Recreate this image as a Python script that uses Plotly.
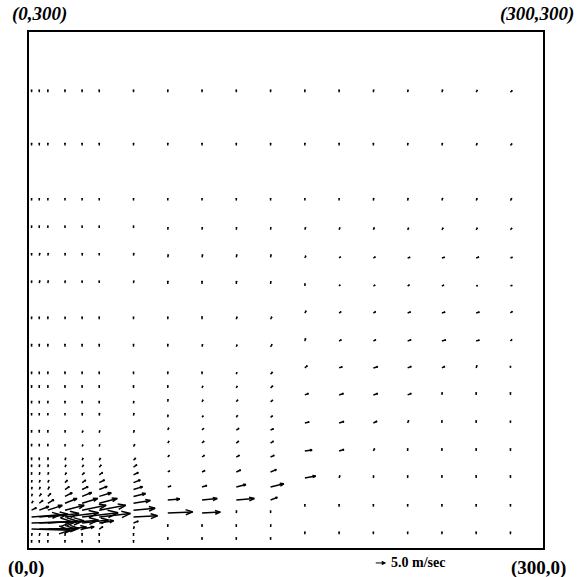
import numpy as np
import plotly.figure_factory as ff
import plotly.graph_objects as go

# ---------------- data (velocity field, m/s) ----------------
# Region A : near-wall columns, fine vertical grid
xa = [1.5, 6, 11, 21, 31, 41, 61]
ya = [3, 7, 11, 14.5, 18, 22, 26, 30, 34, 38, 42.5, 47, 51, 59, 67, 77, 84,
      93, 101, 117, 133, 154, 170, 186, 202, 234, 265]
ua = [
    [0, 0, 0, 0, 0, 0, 0],
    [0.2, 0.2, 0.1, 0.1, 0, 0, 0],
    [16, 15, 13, 9, 5, 1.5, 0.3],
    [17, 16, 15, 14, 11, 6, 2],
    [12, 12, 13, 14, 15, 13, 10],
    [2, 4, 6, 8, 10, 11, 9],
    [0.6, 1.5, 2.5, 5, 6.5, 7.5, 7],
    [0.3, 0.8, 1.2, 3, 4, 5, 5],
    [0.2, 0.4, 0.6, 1.8, 2.5, 3.3, 3.8],
    [0.1, 0.3, 0.4, 1.0, 1.5, 2.2, 2.8],
    [0, 0.2, 0.3, 0.6, 0.9, 1.4, 2.0],
    [0, 0.1, 0.2, 0.4, 0.6, 0.8, 1.4],
    [0, 0, 0.1, 0.3, 0.4, 0.5, 0.9],
    [0, 0, 0, 0.1, 0.3, 0.2, 0.5],
    [0, 0, 0, 0.1, 0.3, 0.2, 0.3],
    [0, 0, 0, 0, 0.1, 0.1, 0.2],
    [0, 0, 0, 0, 0, 0, 0.1],
    [0, 0, 0, 0, 0, 0, 0],
    [0, 0, 0, 0, 0, 0, 0],
    [0, 0, 0, 0, 0, 0, 0],
    [0, 0, 0, 0.1, 0, 0, 0],
    [0, 0.2, 0.2, 0.1, 0, 0, 0.1],
    [0, 0.2, 0.2, 0.1, 0.1, 0, 0.1],
    [0, 0, 0, 0, 0, 0, 0],
    [0, 0, 0, 0, 0, 0, 0],
    [0, 0, 0, 0, 0, 0, 0],
    [0, 0, 0, 0, 0, 0, 0],
]
va = [
    [1.1, 1.1, 1.1, 1.1, 1.1, 1.1, 1.1],
    [1.1, 1.1, 1.1, 1.1, 1.1, 1.1, 1.1],
    [-0.5, 0, 0.3, 0.8, 1, 1, 1],
    [0.5, 0.8, 1.0, 1.2, 1.3, 1.0, 0.8],
    [1.0, 1.2, 1.5, 1.8, 1.8, 1.5, 0.5],
    [1, 1.5, 2, 2, 2, 2, 0.8],
    [0.9, 1.2, 1.5, 2, 2, 2, 1.2],
    [1, 1.1, 1.2, 1.5, 1.6, 1.5, 1.2],
    [1, 1, 1.1, 1.2, 1.2, 1.3, 1.2],
    [1, 1, 1, 1, 1, 1.1, 1.1],
    [1, 1, 1, 0.9, 0.9, 1, 1],
    [1, 1, 1, 0.9, 0.9, 0.9, 1],
    [1.1, 1.1, 1.1, 1, 0.9, 0.9, 0.9],
    [1, 1, 1, 0.9, 0.7, 0.8, 0.9],
    [1, 1.1, 1, 1, 0.8, 0.9, 1],
    [1, 1, 1, 1, 1, 1, 1],
    [1, 1, 1, 1, 1, 1, 1],
    [1.1, 1.1, 1.1, 1.1, 1.1, 1.1, 1.1],
    [1, 1, 1, 1, 1, 1, 1],
    [1.1, 1.1, 1.1, 1.1, 1.1, 1.1, 1.1],
    [1, 1, 1, 1, 1, 1, 1],
    [1, 1, 1, 1, 1, 1, 1],
    [1, 1, 1, 1, 1, 1, 1],
    [1, 1, 1, 1, 1, 1, 1],
    [1, 1, 1, 1, 1, 1, 1],
    [1, 1, 1, 1, 1, 1, 1],
    [1, 1, 1, 1, 1, 1, 1],
]

# Region B : middle columns
xb = [81, 101, 121, 141]
yb = [4.7, 12.2, 20.3, 27.9, 35.5, 44.2, 52.9, 61, 68.6, 76, 85, 93, 101,
      117, 133, 153.5, 169, 185, 202, 234, 265]
ub = [
    [0, 0, 0, 0],
    [0, 0, 0, 0.1],
    [10.4, 7.6, 0.1, 0],
    [5, 6.3, 7.5, 2.8],
    [1.3, 2.0, 4.0, 5.5],
    [0.8, 1.2, 1.8, 2.4],
    [0.6, 1.0, 1.3, 1.5],
    [0.5, 0.8, 1.0, 1.2],
    [0.4, 0.7, 1.1, 1.2],
    [0.1, 0.5, 0.5, 0.8],
    [0.1, 0.4, 0.6, 0.9],
    [0, 0.3, 0.4, 0.9],
    [0, 0, 0.2, 0.8],
    [0, 0.2, 0.3, 0.6],
    [0, 0, 0.3, 0.5],
    [0, 0, 0.1, 0.1],
    [0.2, 0.2, 0.2, 0.2],
    [0.1, 0.1, 0.1, 0.1],
    [0, 0, 0, 0],
    [0, 0, 0, 0],
    [0, 0, 0, 0],
]
vb = [
    [1, 1, 1, 1],
    [1, 1, 1, 1],
    [0.5, 0.4, 1.0, 1],
    [0.4, 0.6, 0.6, 1.1],
    [0.4, 0.6, 1.0, 1.3],
    [0.5, 0.6, 0.8, 1.0],
    [0.7, 0.7, 0.7, 0.7],
    [0.8, 0.8, 0.8, 0.8],
    [0.9, 0.7, 0.7, 0.5],
    [1, 0.6, 0.8, 0.6],
    [1, 0.8, 0.8, 0.7],
    [1.1, 0.8, 0.8, 0.9],
    [1, 1, 0.8, 0.9],
    [1.1, 1, 0.8, 1.0],
    [1, 1.1, 1, 1],
    [1.2, 1.2, 1.2, 1.1],
    [1.1, 1.1, 1.1, 1.1],
    [1, 1, 1, 1],
    [1, 1, 1, 1],
    [1, 1, 1, 1],
    [1, 1, 1, 1],
]

# Region C : far-field columns
xc = [161, 181, 201, 221, 241, 261, 281]
yc = [8, 24, 40.7, 56.4, 72.7, 89, 104.7, 120.3, 136.6, 152.3, 168.6, 185,
      202, 234, 265]
uc = [
    [0, 0, 0, 0, 0, 0, 0],
    [0, 0, 0, 0, 0, 0, 0],
    [4.5, 0.3, 0.1, 0, 0, 0, 0],
    [3.0, 2.0, 0.5, 0, 0, 0, 0],
    [1.8, 2.0, 1.5, 0.4, 0, 0, 0],
    [1.5, 1.8, 1.8, 1.5, 0.1, 0, 0],
    [1.0, 1.3, 1.8, 1.5, 1.2, 0.3, 0],
    [0.3, 0.9, 1.0, 1.4, 1.6, 1.3, 0.6],
    [0.5, 0.8, 0.9, 1.2, 1.3, 1.3, 0.8],
    [0.1, 0.4, 0.7, 0.7, 0.8, 0.6, 0.7],
    [0.4, 0.6, 0.8, 1.0, 1.1, 1.1, 0.8],
    [0.3, 0.3, 0.4, 0.4, 0.5, 0.5, 0.6],
    [0, 0, 0.1, 0.2, 0.3, 0.4, 0.5],
    [0, 0, 0, 0.1, 0.2, 0.4, 0.6],
    [0, 0, 0.1, 0.2, 0.3, 0.5, 0.7],
]
vc = [
    [1, 1, 1, 1, 1, 1, 1],
    [1, 1, 1, 1, 1, 1, 1],
    [0.8, 1, 1, 1, 1, 1, 1],
    [0.4, 0.6, 1, 1, 1, 1, 1],
    [0.4, 0.6, 0.7, 1, 1, 1, 0.9],
    [0.6, 0.6, 0.6, 0.6, 1, 1, 1],
    [0.9, 0.5, 0.5, 0.6, 0.6, 1, 0.8],
    [1.1, 0.6, 0.6, 0.6, 0.5, 0.4, 0.7],
    [0.9, 0.6, 0.6, 0.5, 0.4, 0.4, 0.7],
    [1.0, 0.5, 0.4, 0.5, 0.4, 0.2, 0.3],
    [0.9, 0.5, 0.5, 0.3, 0.3, 0.4, 0.3],
    [1, 0.9, 0.9, 0.8, 0.8, 0.8, 0.7],
    [1, 1, 1, 1, 1, 0.9, 0.9],
    [1, 1, 1, 1, 1, 0.9, 0.8],
    [1, 1, 1, 1, 1, 0.9, 0.7],
]

ref_speed = 5.0           # reference vector, m/s
corner_labels = ["(0,300)", "(300,300)", "(0,0)", "(300,0)"]

# ---------------- build ----------------
X, Y, U, V = [], [], [], []
for xs, ys, us, vs in [(xa, ya, ua, va), (xb, yb, ub, vb), (xc, yc, uc, vc)]:
    for i, yy in enumerate(ys):
        for j, xx in enumerate(xs):
            X.append(xx); Y.append(yy); U.append(us[i][j]); V.append(vs[i][j])

SCALE = 1.4
fig = ff.create_quiver(np.array(X, float), np.array(Y, float),
                       np.array(U, float), np.array(V, float),
                       scale=SCALE, arrow_scale=0.3, angle=np.pi / 9,
                       line=dict(color="black", width=1.5), hoverinfo="skip")

W, H = 580, 577
ML, MR, MT, MB = 29, 37, 32, 29
XR = [0, 300]
axis = dict(range=XR, showline=True, mirror=True, linecolor="black",
            linewidth=1.5, showticklabels=False, showgrid=False,
            zeroline=False, ticks="")
fig.update_layout(
    width=W, height=H,
    margin=dict(l=ML, r=MR, t=MT, b=MB),
    plot_bgcolor="white", paper_bgcolor="white",
    showlegend=False,
    xaxis=axis, yaxis=axis,
    font=dict(family="Liberation Serif", color="black"),
)

lab_font = dict(family="Liberation Serif", size=19, color="black")
fig.add_annotation(text="<b><i>" + corner_labels[0] + "</i></b>", xref="paper", yref="paper",
                   x=0.021, y=1.035, showarrow=False, xanchor="center", yanchor="middle", font=lab_font)
fig.add_annotation(text="<b><i>" + corner_labels[1] + "</i></b>", xref="paper", yref="paper",
                   x=0.988, y=1.035, showarrow=False, xanchor="center", yanchor="middle", font=lab_font)
fig.add_annotation(text="<b>" + corner_labels[2] + "</b>", xref="paper", yref="paper",
                   x=-0.006, y=-0.039, showarrow=False, xanchor="center", yanchor="middle", font=lab_font)
fig.add_annotation(text="<b>" + corner_labels[3] + "</b>", xref="paper", yref="paper",
                   x=0.992, y=-0.039, showarrow=False, xanchor="center", yanchor="middle", font=lab_font)

# reference arrow (5 m/s, same scale as the field)
plot_w = W - ML - MR
x0_data, y_paper = 201.5, -0.029
arrow_len_data = ref_speed * SCALE
head_paper = (x0_data + arrow_len_data - XR[0]) / (XR[1] - XR[0])
arrow_len_px = arrow_len_data / (XR[1] - XR[0]) * plot_w
fig.add_annotation(x=head_paper, y=y_paper, xref="paper", yref="paper",
                   ax=-arrow_len_px, ay=0,
                   text="", showarrow=True, arrowhead=2, arrowsize=0.9,
                   arrowwidth=1, arrowcolor="black")
fig.add_annotation(text="<b>%.1f m/sec</b>" % ref_speed, x=head_paper + 0.006, y=y_paper,
                   xref="paper", yref="paper", showarrow=False, xanchor="left", yanchor="middle",
                   font=dict(family="Liberation Serif", size=14, color="black"))

fig.write_html("out.html", config={"displayModeBar": False},
               post_script="document.body.style.margin='0';")
